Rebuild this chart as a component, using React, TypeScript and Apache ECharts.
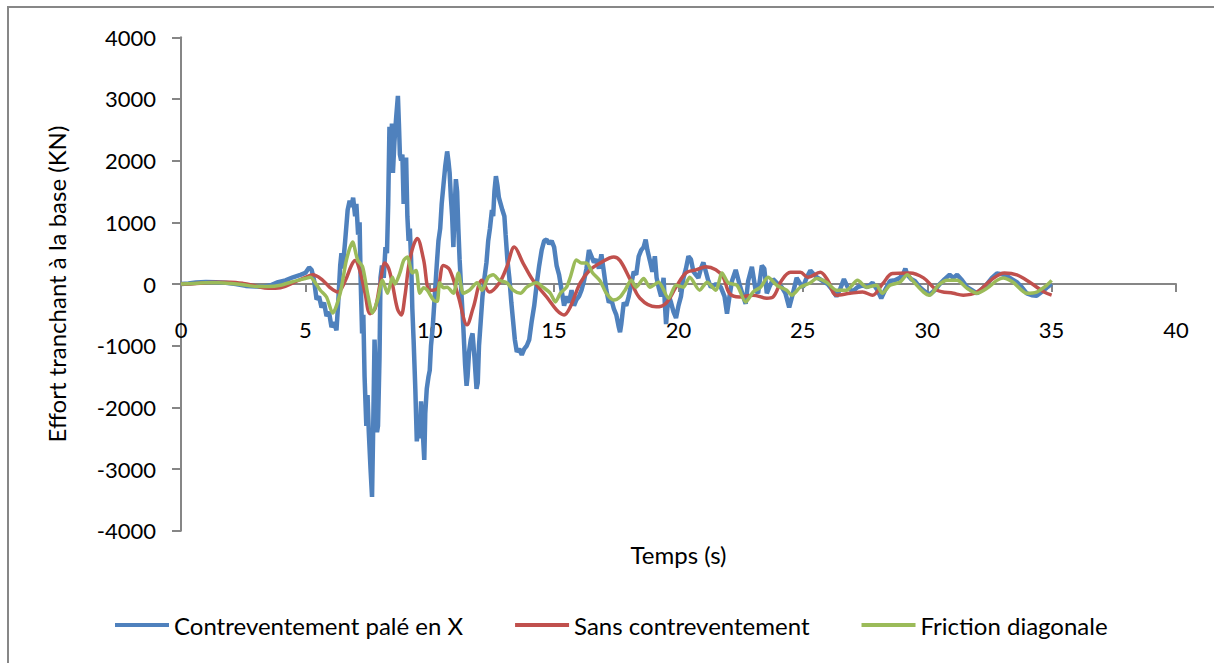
import React, { useEffect, useRef } from "react";
import * as echarts from "echarts";

const seriesNames = ["Contreventement palé en X", "Sans contreventement", "Friction diagonale"];
const xTicks = { min: 0, max: 40, interval: 5 };
const yTicks = { min: -4000, max: 4000, interval: 1000 };

const bluePalX: [number, number][] = [
  [0, 0], [0.3, 10], [0.6, 25], [1.0, 35], [1.4, 30], [1.8, 20], [2.2, 0], [2.6, -30], [3.0, -40], [3.3, -45],
  [3.6, -20], [3.9, 30], [4.2, 60], [4.5, 110], [4.8, 150], [5.0, 180], [5.15, 270], [5.25, 230], [5.35, 60],
  [5.45, -250], [5.55, -200], [5.65, -380], [5.75, -300], [5.85, -520], [5.95, -450], [6.05, -700], [6.15, -620],
  [6.25, -750], [6.32, -300], [6.4, 300], [6.45, 500], [6.5, 250], [6.6, 700], [6.7, 1200], [6.78, 1350],
  [6.85, 1250], [6.92, 1400], [7.0, 1100], [7.05, 1300], [7.12, 800], [7.18, 1000], [7.22, 100], [7.28, -800],
  [7.33, -500], [7.38, -1500], [7.45, -2300], [7.5, -1800], [7.55, -2400], [7.62, -3000], [7.68, -3450],
  [7.72, -2500], [7.78, -900], [7.82, -1300], [7.88, -2400], [7.92, -2300], [7.98, -1200], [8.02, 100],
  [8.08, 300], [8.15, 100], [8.22, 600], [8.28, 500], [8.33, 1300], [8.38, 2550], [8.42, 2000], [8.48, 2600],
  [8.52, 1800], [8.58, 2300], [8.65, 2700], [8.72, 3050], [8.76, 2600], [8.8, 2100], [8.85, 2000], [8.9, 2100],
  [8.95, 1300], [9.0, 1700], [9.05, 2050], [9.1, 1100], [9.15, 700], [9.2, 900], [9.25, 400], [9.3, -400],
  [9.35, -900], [9.42, -1700], [9.48, -2550], [9.55, -2200], [9.6, -2500], [9.65, -1900], [9.72, -2400],
  [9.78, -2850], [9.82, -2100], [9.88, -1700], [9.95, -1500], [10.0, -1400], [10.05, -1000], [10.12, -700],
  [10.2, -200], [10.28, 300], [10.35, 700], [10.42, 900], [10.48, 1300], [10.55, 1600], [10.62, 1900],
  [10.7, 2150], [10.75, 2000], [10.8, 1800], [10.85, 1400], [10.9, 1100], [10.95, 600], [11.0, 1200],
  [11.05, 1700], [11.1, 1500], [11.15, 900], [11.2, 400], [11.28, -200], [11.35, -700], [11.42, -1300],
  [11.48, -1650], [11.52, -1500], [11.58, -1100], [11.65, -900], [11.72, -800], [11.8, -1200], [11.88, -1700],
  [11.93, -1600], [11.98, -1000], [12.05, -600], [12.12, -200], [12.2, 100], [12.28, 350], [12.35, 700],
  [12.42, 900], [12.5, 1200], [12.55, 1100], [12.6, 1500], [12.66, 1750], [12.72, 1600], [12.78, 1400],
  [12.85, 1300], [12.92, 1200], [13.0, 1100], [13.05, 800], [13.12, 400], [13.2, 100], [13.28, -300],
  [13.35, -600], [13.42, -900], [13.5, -1100], [13.6, -1050], [13.7, -1150], [13.8, -1050], [13.9, -1000],
  [14.0, -900], [14.1, -600], [14.2, -350], [14.3, 0], [14.4, 300], [14.5, 550], [14.6, 700], [14.7, 720],
  [14.8, 650], [14.9, 700], [15.0, 600], [15.1, 300], [15.2, 150], [15.3, -100], [15.4, -350], [15.5, -200],
  [15.6, -300], [15.7, -100], [15.8, -350], [15.9, -250], [16.0, -200], [16.1, -100], [16.2, 50], [16.3, 250],
  [16.4, 550], [16.5, 450], [16.6, 350], [16.7, 400], [16.8, 250], [16.9, 480], [17.0, 200], [17.1, -100],
  [17.2, -300], [17.3, -250], [17.4, -400], [17.5, -500], [17.6, -700], [17.65, -780], [17.7, -650],
  [17.8, -300], [17.9, -350], [18.0, -200], [18.1, 0], [18.2, 200], [18.3, 150], [18.4, 450], [18.5, 550],
  [18.6, 600], [18.68, 720], [18.75, 550], [18.85, 380], [18.95, 200], [19.05, 450], [19.12, 100], [19.2, -50],
  [19.3, -200], [19.4, 100], [19.45, -300], [19.5, -650], [19.55, -400], [19.62, -200], [19.7, -300],
  [19.8, -450], [19.9, -550], [20.0, -350], [20.1, -200], [20.2, 100], [20.3, 250], [20.4, 450], [20.5, 400],
  [20.6, 200], [20.7, 150], [20.8, 100], [20.9, 250], [21.0, 350], [21.1, 200], [21.2, 50], [21.3, -50],
  [21.5, 0], [21.7, -50], [21.85, -200], [21.95, -480], [22.05, -200], [22.15, 50], [22.3, 230], [22.45, 0],
  [22.6, -200], [22.7, -320], [22.8, 50], [22.95, 280], [23.1, -100], [23.2, -150], [23.35, 300], [23.45, 250],
  [23.55, -150], [23.65, -50], [23.8, 80], [24.0, 0], [24.15, -50], [24.3, -150], [24.45, -380], [24.6, -150],
  [24.75, 100], [24.9, 0], [25.0, -50], [25.15, 100], [25.3, 220], [25.45, 150], [25.6, 100], [25.8, 50],
  [26.0, 0], [26.2, -100], [26.35, -200], [26.5, -80], [26.65, 80], [26.8, -50], [27.0, -120], [27.2, -50],
  [27.4, -20], [27.6, -50], [27.8, 20], [28.0, -100], [28.15, -230], [28.3, -100], [28.5, 50], [28.7, 60],
  [28.9, 100], [29.05, 180], [29.12, 250], [29.2, 150], [29.35, 80], [29.5, 50], [29.7, -50], [29.9, -120],
  [30.1, -170], [30.3, -100], [30.5, 0], [30.7, 80], [30.9, 150], [31.05, 100], [31.2, 150], [31.4, 60],
  [31.6, -50], [31.8, -100], [32.0, -150], [32.2, -80], [32.4, 0], [32.6, 100], [32.8, 170], [33.0, 160],
  [33.2, 130], [33.4, 80], [33.6, 30], [33.8, -50], [34.0, -150], [34.2, -180], [34.4, -190], [34.6, -130],
  [34.8, -60], [35.0, 0],
];

const redSans: [number, number][] = [
  [0, 0], [0.5, 5], [1, 20], [1.5, 30], [2, 30], [2.5, 10], [3, -30], [3.5, -70], [4, -60], [4.5, 20],
  [5, 110], [5.3, 150], [5.7, 60], [6.0, -60], [6.3, -130], [6.6, 50], [6.85, 300], [7.0, 380], [7.2, 200],
  [7.4, -150], [7.6, -480], [7.8, -400], [8.0, 0], [8.2, 340], [8.35, 250], [8.5, 0], [8.7, -400], [8.85, -500],
  [9.0, -200], [9.2, 400], [9.5, 740], [9.75, 400], [10.0, -100], [10.3, -80], [10.55, 300], [10.8, 230],
  [11.15, -200], [11.5, -660], [11.75, -380], [12.1, 60], [12.4, -130], [12.8, 20], [13.1, 280], [13.4, 600],
  [13.75, 340], [14.15, 60], [14.7, -210], [15.1, -420], [15.4, -500], [15.65, -370], [16.05, 20], [16.45, 230],
  [16.85, 340], [17.4, 440], [17.65, 380], [18.05, 80], [18.45, -230], [19.1, -370], [19.5, -310], [19.9, -50],
  [20.3, 180], [20.7, 230], [21.1, 280], [21.5, 230], [21.8, 110], [22.05, -150], [22.45, -210], [23.0, -180],
  [23.55, -230], [23.8, -210], [24.15, 60], [24.5, 190], [24.9, 190], [25.2, 110], [25.7, 190], [26.0, 60],
  [26.35, -180], [26.9, -150], [27.4, -130], [27.8, -180], [28.2, 0], [28.6, 170], [29.3, 180], [29.85, 100],
  [30.4, -100], [31.05, -150], [31.45, -180], [32.0, -130], [32.55, 60], [33.1, 180], [33.6, 150], [34.15, 20],
  [34.7, -130], [35.0, -180],
];

const greenFriction: [number, number][] = [
  [0, 0], [0.5, 10], [1, 20], [1.5, 20], [2, 10], [2.5, -10], [3, -40], [3.5, -40], [4, -20], [4.5, 40],
  [5, 90], [5.2, 110], [5.4, 20], [5.6, -100], [5.85, -210], [6.1, -470], [6.4, -150], [6.65, 390], [6.9, 680],
  [7.1, 390], [7.3, 280], [7.5, -150], [7.7, -470], [7.9, -260], [8.1, 60], [8.3, -150], [8.5, 110], [8.6, 0],
  [8.8, 180], [8.95, 380], [9.1, 440], [9.3, 180], [9.45, 220], [9.6, -150], [9.75, -60], [9.9, -100],
  [10.15, -260], [10.3, -280], [10.4, 20], [10.55, -60], [10.7, -50], [10.95, -150], [11.15, 180], [11.35, -150],
  [11.6, -100], [11.9, 20], [12.1, -100], [12.35, 110], [12.55, 150], [12.8, 60], [13.1, 20], [13.35, -100],
  [13.65, -150], [13.9, -50], [14.3, 20], [14.55, -50], [14.85, -150], [15.05, -290], [15.25, -150], [15.5, -50],
  [15.65, 110], [15.9, 390], [16.1, 340], [16.3, 340], [16.55, 180], [16.85, 50], [17.1, -150], [17.4, -260],
  [17.65, -210], [17.85, -100], [18.1, 60], [18.3, -50], [18.6, 90], [18.85, -50], [19.2, 30], [19.6, -230],
  [19.9, -20], [20.2, -50], [20.45, 110], [20.85, -100], [21.15, 30], [21.5, -100], [21.75, 180], [22.0, 20],
  [22.35, -20], [22.7, -290], [23.0, -130], [23.3, -50], [23.6, 110], [23.95, -20], [24.35, -100], [24.55, -180],
  [24.9, -50], [25.3, 20], [25.55, 90], [25.95, 30], [26.35, -100], [26.75, -100], [27.2, 60], [27.55, -50],
  [27.95, -20], [28.2, -150], [28.5, -20], [28.9, 30], [29.2, 150], [29.4, 60], [29.85, -130], [30.1, -180],
  [30.45, -20], [30.8, 60], [31.2, 60], [31.6, -70], [32.0, -150], [32.4, -70], [32.8, 60], [33.05, 100],
  [33.45, 30], [34.0, -150], [34.4, -130], [34.8, -20], [35.0, 60],
];

const colors = ["#4F81BD", "#C0504D", "#9BBB59"];
const FONT = "Lato, 'Open Sans', sans-serif";

// grid geometry (pixels)
const GRID_TOP = 37.3;
const GRID_BOTTOM = 132.2;
const PLOT_H = 663 - GRID_TOP - GRID_BOTTOM;

export default function App() {
  const ref = useRef<HTMLDivElement>(null);
  useEffect(() => {
    document.body.style.margin = "0";
    const chart = echarts.init(ref.current!, null, { renderer: "svg" });
    // x axis is drawn at value 0 of the y axis
    const zeroShift = (PLOT_H * (0 - yTicks.min)) / (yTicks.max - yTicks.min);
    chart.setOption({
      animation: false,
      backgroundColor: "#ffffff",
      textStyle: { fontFamily: FONT },
      graphic: [
        {
          type: "rect",
          shape: { x: 8, y: 7, width: 1240, height: 700 },
          style: { fill: "none", stroke: "#878787", lineWidth: 2 },
          silent: true,
        },
      ],
      legend: {
        left: 110,
        top: 608,
        icon: "rect",
        itemWidth: 54,
        itemHeight: 4,
        itemGap: 52,
        textStyle: { fontSize: 24, color: "#000", fontFamily: FONT },
        data: seriesNames,
      },
      grid: { left: 181, right: 38, top: GRID_TOP, bottom: GRID_BOTTOM, containLabel: false, outerBoundsMode: "none" },
      xAxis: {
        type: "value",
        position: "bottom",
        offset: -zeroShift,
        min: xTicks.min,
        max: xTicks.max,
        interval: xTicks.interval,
        name: "Temps (s)",
        nameLocation: "middle",
        nameGap: 258,
        nameTextStyle: { fontSize: 24, color: "#000", fontFamily: FONT },
        axisLine: { onZero: false, lineStyle: { color: "#868686", width: 2 } },
        axisTick: { show: true, inside: false, length: 8, lineStyle: { color: "#868686", width: 2 } },
        axisLabel: { fontSize: 22, color: "#000", margin: 34, fontFamily: FONT },
        splitLine: { show: false },
      },
      yAxis: {
        type: "value",
        min: yTicks.min,
        max: yTicks.max,
        interval: yTicks.interval,
        name: "Effort tranchant à la base (KN)",
        nameLocation: "middle",
        nameGap: 113,
        nameTextStyle: { fontSize: 24, color: "#000", fontFamily: FONT },
        axisLine: { show: true, onZero: false, lineStyle: { color: "#868686", width: 2 } },
        axisTick: { show: true, length: 9, lineStyle: { color: "#868686", width: 2 } },
        axisLabel: { fontSize: 22, color: "#000", margin: 25, fontFamily: FONT, formatter: (v: number) => String(v) },
        splitLine: { show: false },
      },
      series: [
        {
          name: seriesNames[0],
          type: "line",
          data: bluePalX,
          showSymbol: false,
          symbol: "none",
          color: colors[0],
          lineStyle: { width: 4.5, color: colors[0] },
        },
        {
          name: seriesNames[1],
          type: "line",
          data: redSans,
          showSymbol: false,
          symbol: "none",
          smooth: 0.35,
          color: colors[1],
          lineStyle: { width: 3.5, color: colors[1] },
        },
        {
          name: seriesNames[2],
          type: "line",
          data: greenFriction,
          showSymbol: false,
          symbol: "none",
          smooth: 0.25,
          color: colors[2],
          lineStyle: { width: 3.5, color: colors[2] },
        },
      ],
    });
    return () => chart.dispose();
  }, []);
  return <div ref={ref} style={{ width: 1214, height: 663 }} />;
}
